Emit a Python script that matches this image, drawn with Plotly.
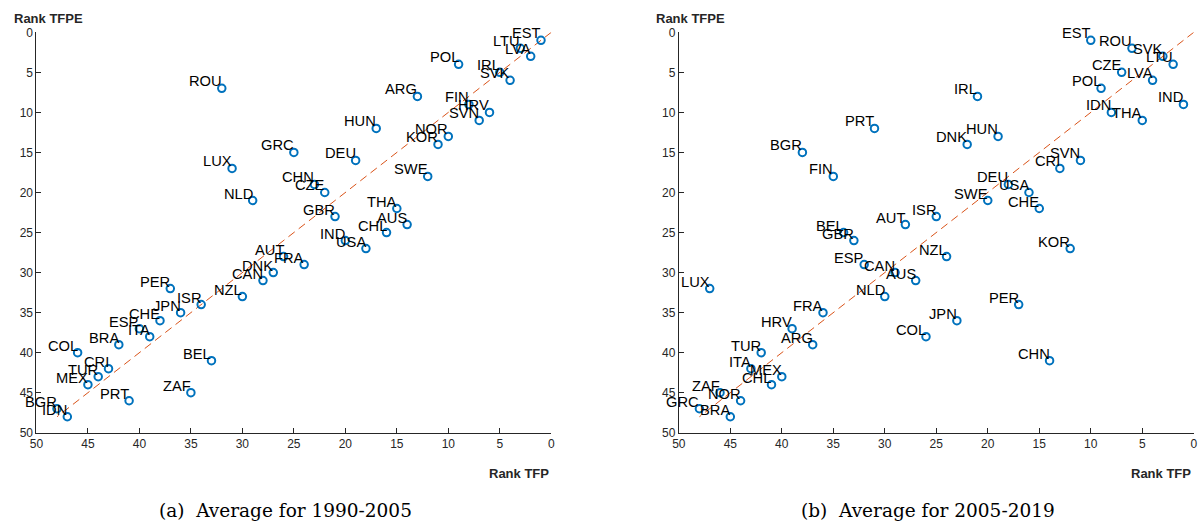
import plotly.graph_objects as go

# ---------------- Data ----------------
countries_a = ["EST", "LTU", "LVA", "POL", "IRL", "SVK", "ROU", "ARG", "FIN", "HRV",
               "SVN", "HUN", "NOR", "KOR", "GRC", "DEU", "LUX", "SWE", "CHN", "CZE",
               "NLD", "THA", "GBR", "AUS", "CHL", "IND", "USA", "AUT", "FRA", "DNK",
               "CAN", "PER", "NZL", "ISR", "JPN", "CHE", "ESP", "ITA", "BRA", "COL",
               "BEL", "CRI", "TUR", "MEX", "ZAF", "PRT", "BGR", "IDN"]
rank_tfp_a = [1, 3, 2, 9, 5, 4, 32, 13, 8, 6,
              7, 17, 10, 11, 25, 19, 31, 12, 23, 22,
              29, 15, 21, 14, 16, 20, 18, 26, 24, 27,
              28, 37, 30, 34, 36, 38, 40, 39, 42, 46,
              33, 43, 44, 45, 35, 41, 48, 47]
rank_tfpe_a = list(range(1, 49))

countries_b = ["EST", "ROU", "SVK", "LTU", "CZE", "LVA", "POL", "IRL", "IND", "IDN",
               "THA", "PRT", "HUN", "DNK", "BGR", "SVN", "CRI", "FIN", "DEU", "USA",
               "SWE", "CHE", "ISR", "AUT", "BEL", "GBR", "KOR", "NZL", "ESP", "CAN",
               "AUS", "LUX", "NLD", "PER", "FRA", "JPN", "HRV", "COL", "ARG", "TUR",
               "CHN", "ITA", "MEX", "CHL", "ZAF", "NOR", "GRC", "BRA"]
rank_tfp_b = [10, 6, 3, 2, 7, 4, 9, 21, 1, 8,
              5, 31, 19, 22, 38, 11, 13, 35, 18, 16,
              20, 15, 25, 28, 34, 33, 12, 24, 32, 29,
              27, 47, 30, 17, 36, 23, 39, 26, 37, 42,
              14, 43, 40, 41, 46, 44, 48, 45]
rank_tfpe_b = list(range(1, 49))

diag_line = [0, 48]
tick_values = [0, 5, 10, 15, 20, 25, 30, 35, 40, 45, 50]

captions = ["(a)  Average for 1990-2005", "(b)  Average for 2005-2019"]
x_title = "Rank TFP"
y_title = "Rank TFPE"

# ---------------- Style ----------------
W, H = 1204, 531
BLUE = "#0072BD"
ORANGE = "#D95319"
AXC = "#262626"
SANS = "Liberation Sans, Arial, sans-serif"
SERIF = "DejaVu Serif, serif"

xdom = [[29.7 / W, 549.3 / W], [678.0 / W, 1197.7 / W]]
ydom = [1 - 437.3 / H, 1 - 26.0 / H]

fig = go.Figure()

panels = [(countries_a, rank_tfp_a, rank_tfpe_a), (countries_b, rank_tfp_b, rank_tfpe_b)]
annotations = []
for i, (names, xs, ys) in enumerate(panels):
    xa = "x" if i == 0 else "x2"
    ya = "y" if i == 0 else "y2"
    fig.add_trace(go.Scatter(x=diag_line, y=diag_line, mode="lines",
                             line=dict(color=ORANGE, width=1, dash="8px,5px"),
                             xaxis=xa, yaxis=ya, showlegend=False, hoverinfo="skip"))
    fig.add_trace(go.Scatter(x=xs, y=ys, mode="markers",
                             marker=dict(symbol="circle-open", size=7.5, color=BLUE,
                                         line=dict(color=BLUE, width=2)),
                             xaxis=xa, yaxis=ya, showlegend=False,
                             text=names, hoverinfo="text"))
    for n, xv, yv in zip(names, xs, ys):
        annotations.append(dict(x=xv, y=yv, xref=xa, yref=ya, text=n,
                                showarrow=False, xanchor="right", yanchor="bottom",
                                xshift=2, yshift=-3,
                                font=dict(family=SANS, size=14.7, color="black")))

ytitle_x = [41.5, 689.5]
xtitle_right = [549.0, 1197.0]
cap_x = [281.0, 929.0]
for i in range(2):
    annotations.append(dict(x=ytitle_x[i] / W, y=1 - 11.5 / H, xref="paper", yref="paper",
                            text="<b>" + y_title + "</b>", showarrow=False,
                            xanchor="center", yanchor="middle",
                            font=dict(family=SANS, size=13, color=AXC)))
    annotations.append(dict(x=xtitle_right[i] / W, y=1 - 479.5 / H, xref="paper", yref="paper",
                            text="<b>" + x_title + "</b>", showarrow=False,
                            xanchor="right", yanchor="middle",
                            font=dict(family=SANS, size=13, color=AXC)))
    annotations.append(dict(x=cap_x[i] / W, y=1 - 517.0 / H, xref="paper", yref="paper",
                            text=captions[i], showarrow=False,
                            xanchor="center", yanchor="middle",
                            font=dict(family=SERIF, size=18.5, color="black")))

axis_common = dict(range=[50, 0], tickvals=tick_values, ticks="inside", ticklen=5,
                   tickwidth=1, tickcolor=AXC, showline=True, linecolor=AXC, linewidth=1,
                   showgrid=False, zeroline=False, mirror=False,
                   tickfont=dict(family=SANS, size=12, color=AXC))

fig.update_layout(
    width=W, height=H, autosize=False,
    margin=dict(l=0, r=0, t=0, b=0),
    paper_bgcolor="white", plot_bgcolor="white",
    xaxis=dict(domain=xdom[0], anchor="y", **axis_common),
    yaxis=dict(domain=ydom, anchor="x", **axis_common),
    xaxis2=dict(domain=xdom[1], anchor="y2", **axis_common),
    yaxis2=dict(domain=ydom, anchor="x2", **axis_common),
    annotations=annotations,
    showlegend=False,
)

fig.write_html(
    "out.html",
    config={"displayModeBar": False},
    post_script="document.body.style.margin='0px';document.body.style.padding='0px';"
                "document.documentElement.style.overflow='hidden';",
)
